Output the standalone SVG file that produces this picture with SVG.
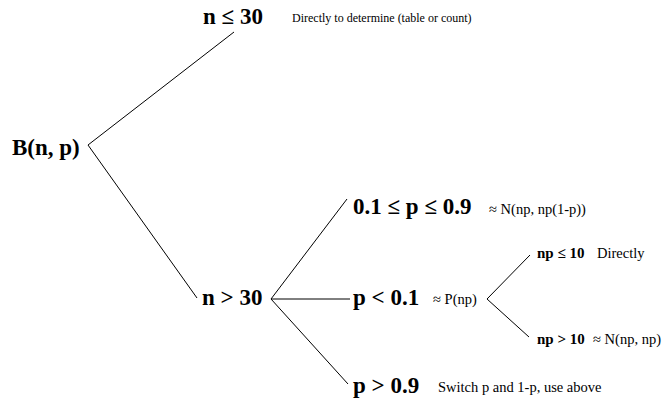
<svg xmlns="http://www.w3.org/2000/svg" width="667" height="403" viewBox="0 0 667 403">
<style>
.big{font-family:"Liberation Serif","Times New Roman",serif;font-weight:bold;font-size:23px;fill:#000}
.mid{font-family:"Liberation Serif","Times New Roman",serif;font-weight:bold;font-size:15px;fill:#000}
.sm{font-family:"Liberation Serif","Times New Roman",serif;font-size:14.5px;fill:#000}
.xs{font-family:"Liberation Serif","Times New Roman",serif;font-size:12px;fill:#000}
.ln{stroke:#000;stroke-width:1;fill:none}
</style>
<rect width="667" height="403" fill="#fff"/>
<g id="connectors">
<line class="ln" x1="88" y1="145" x2="234" y2="32"/>
<line class="ln" x1="88" y1="145" x2="197" y2="298"/>
<line class="ln" x1="271" y1="299" x2="347" y2="199"/>
<line class="ln" x1="271" y1="299" x2="350" y2="299"/>
<line class="ln" x1="271" y1="299" x2="348" y2="384"/>
<line class="ln" x1="487" y1="299" x2="530" y2="255"/>
<line class="ln" x1="487" y1="299" x2="529" y2="337"/>
</g>
<g id="root"><text class="big" x="12" y="155">B(n, p)</text></g>
<g id="n-le-30"><text class="big" x="203" y="24">n ≤ 30</text><text class="xs" x="292" y="22">Directly to determine (table or count)</text></g>
<g id="n-gt-30"><text class="big" x="202" y="305">n &gt; 30</text></g>
<g id="p-mid"><text class="big" x="353" y="214">0.1 ≤ p ≤ 0.9</text><text class="sm" x="489" y="214">≈ N(np, np(1-p))</text></g>
<g id="p-lt"><text class="big" x="353" y="305">p &lt; 0.1</text><text class="sm" x="433" y="304">≈ P(np)</text></g>
<g id="p-gt"><text class="big" x="353" y="393">p &gt; 0.9</text><text class="sm" x="438" y="392">Switch p and 1-p, use above</text></g>
<g id="np-le"><text class="mid" x="537" y="258">np ≤ 10</text><text class="sm" x="597" y="258">Directly</text></g>
<g id="np-gt"><text class="mid" x="537" y="344">np &gt; 10</text><text class="sm" x="593" y="344">≈ N(np, np)</text></g>
</svg>
